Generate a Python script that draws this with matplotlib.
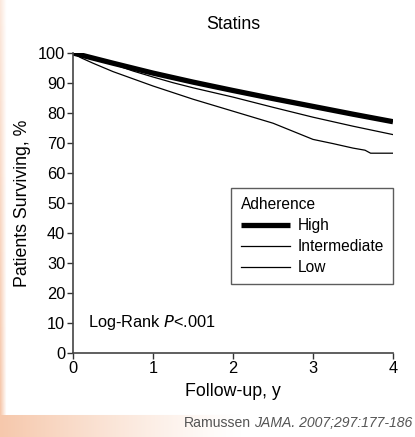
import matplotlib
matplotlib.use('Agg')
import numpy as np
import matplotlib.pyplot as plt

plt.rcParams['font.family'] = ['Liberation Sans', 'DejaVu Sans']

# -----------------------------
# Data
# -----------------------------
years_high = [0, 0.5, 1, 1.5, 2, 2.5, 3, 3.5, 4]
surv_high = [100, 96.6, 93.3, 90.3, 87.5, 84.8, 82.2, 79.6, 77.1]

years_mid = [0, 0.25, 0.5, 0.75, 1, 1.25, 1.5, 2, 2.5, 3, 3.5, 4]
surv_mid = [100, 98.2, 96.3, 94.0, 92.0, 90.1, 88.4, 85.3, 81.9, 78.6, 75.6, 72.8]

years_low = [0, 0.1, 0.25, 0.5, 0.75, 1, 1.25, 1.5, 2, 2.5, 3, 3.25, 3.5, 3.65, 3.72, 4]
surv_low = [100, 98.4, 96.6, 93.8, 91.4, 89.0, 86.8, 84.6, 80.6, 76.6, 71.2, 69.8, 68.3, 67.6, 66.6, 66.6]

x_ticks = [0, 1, 2, 3, 4]
y_ticks = list(range(0, 101, 10))

W, H = 415, 437
fig = plt.figure(figsize=(W / 100, H / 100), dpi=100)

# -----------------------------
# Peach slide decoration
# -----------------------------
peach = np.array([246, 200, 172]) / 255.0
bg = fig.add_axes([0, 0, 1, 1], zorder=-10)
img = np.ones((H, W, 3))
# bottom band
band_top = 415
fade_x = np.clip(1 - np.arange(W) / 240.0, 0, 1) ** 1.2
for c in range(3):
    img[band_top:, :, c] = 1 - (1 - peach[c]) * fade_x[None, :]
# left strip
fade_y = np.clip(np.arange(band_top) / band_top, 0, 1) * 0.6 + 0.4
strip = np.clip(1 - np.arange(6) / 6.0, 0, 1)
for c in range(3):
    img[:band_top, :6, c] = 1 - (1 - peach[c]) * fade_y[:, None] * strip[None, :]
bg.imshow(img, aspect='auto', extent=[0, 1, 0, 1], origin='upper')
bg.axis('off')

# -----------------------------
# Survival curves
# -----------------------------
ax = fig.add_axes([73 / W, 1 - 353 / H, 320 / W, 300 / H])
ax.plot(years_high, surv_high, color='black', lw=3.8, solid_capstyle='butt', label='High')
ax.plot(years_mid, surv_mid, color='black', lw=0.9, label='Intermediate')
ax.plot(years_low, surv_low, color='black', lw=0.9, label='Low')

ax.set_xlim(0, 4)
ax.set_ylim(0, 100)
ax.set_xticks(x_ticks)
ax.set_yticks(y_ticks)
ax.tick_params(direction='out', length=4, width=1, colors='#333333', labelsize=11.8,
               labelcolor='black', pad=1.5)
for s in ['top', 'right']:
    ax.spines[s].set_visible(False)
for s in ['left', 'bottom']:
    ax.spines[s].set_color('#444444')
    ax.spines[s].set_linewidth(1.2)
ax.patch.set_alpha(0)

ax.set_title('Statins', fontsize=12.8, pad=17)
ax.set_xlabel('Follow-up, y', fontsize=12.8, labelpad=5)
ax.set_ylabel('Patients Surviving, %', fontsize=12.8, labelpad=5)

ax.text(0.19, 10, 'Log-Rank $\\it{P}$<.001', fontsize=11.8, va='center', ha='left')

leg = ax.legend(title='Adherence', loc='upper right', bbox_to_anchor=(1.0, 0.55),
                borderaxespad=0, fontsize=11.2, title_fontsize=11.2, frameon=True,
                fancybox=False, edgecolor='#333333', handlelength=3.2,
                handletextpad=0.45, labelspacing=0.38, borderpad=0.6)
leg._legend_box.align = 'left'
leg.get_frame().set_linewidth(1.0)

# -----------------------------
# Citation
# -----------------------------
t_it = fig.text(412 / W, 1 - 423 / H, 'JAMA. 2007;297:177-186', style='italic',
                fontsize=10.1, color='#555555', ha='right', va='center')
fig.canvas.draw()
bb = t_it.get_window_extent()
fig.text((bb.x0 - 3) / W, 1 - 423 / H, 'Ramussen', fontsize=10.1, color='#555555',
         ha='right', va='center')

plt.savefig('out.png', dpi=100)
plt.close()
